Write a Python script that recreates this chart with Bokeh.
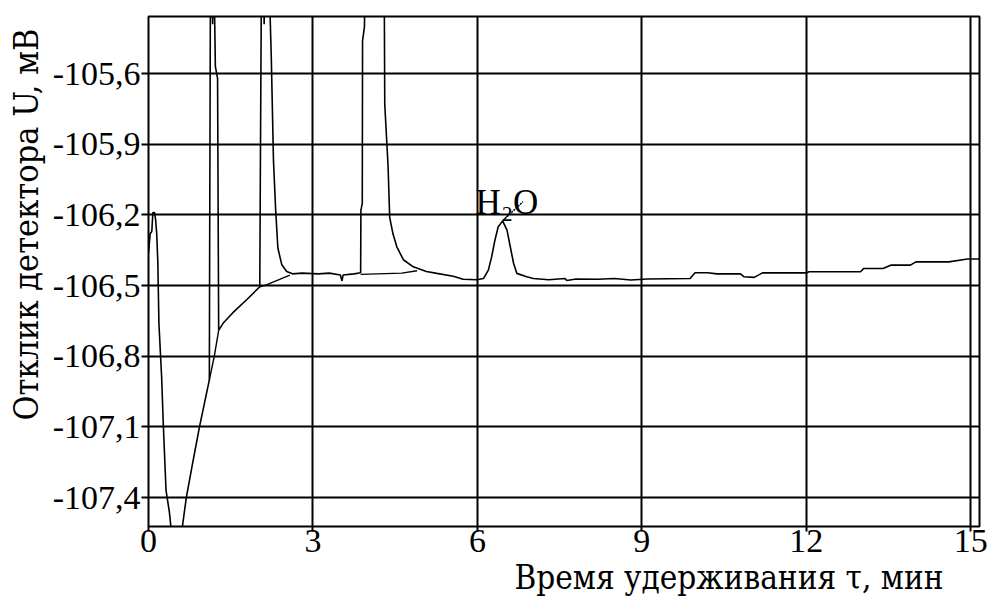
from bokeh.plotting import figure
from bokeh.models import FixedTicker, Label, Range1d, Title
from bokeh.embed import file_html
from bokeh.resources import INLINE

NaN = float("nan")

# ---- data ----
signal_t = [0.00, 0.03, 0.06, 0.08, 0.11, 0.13, 0.15, 0.17, 0.19, 0.24, 0.27, 0.32, 0.38, 0.42, 0.50,
            0.58, 0.62, 0.69, 0.80, 0.93, 1.02, 1.11, 1.115, 1.13, 1.15, 1.17, 1.19, 1.22, 1.26, 1.28,
            1.36, 1.54, 1.79, 2.03, 2.04, 2.06, 2.09, 2.11, 2.13, 2.20, 2.24, 2.28, 2.32, 2.36, 2.43,
            2.52, 2.63, 2.80, 3.10, 3.30, 3.50, 3.53, 3.55, 3.75, 3.87, 3.875, 3.90, 3.905, 3.94, 3.95,
            4.10, 4.30, 4.31, 4.37, 4.40, 4.46, 4.53, 4.65, 4.83, 5.07, 5.26, 5.56, 5.74, 5.99, 6.11,
            6.20, 6.26, 6.32, 6.38, 6.46, 6.54, 6.60, 6.66, 6.72, 6.90, 7.02, 7.30, 7.60, 7.63, 7.80,
            8.20, 8.50, 8.80, 9.10, 9.88, 9.97, 10.20, 10.37, 10.80, 10.86, 11.05, 11.20, 12.00, 12.05,
            12.99, 13.05, 13.40, 13.54, 13.90, 14.00, 14.60, 14.94, 15.16]
signal_u = [-106.36, -106.28, -106.27, -106.19, -106.19, -106.22, -106.28, -106.40, -106.66, -106.89,
            -107.09, -107.37, -107.46, -107.55, -107.70, -107.58, -107.52, -107.40, -107.26, -107.10,
            -107.00, -106.90, -106.40, -105.20, -105.10, -105.39, -105.10, -105.57, -105.62, -106.69,
            -106.66, -106.615, -106.56, -106.505, -106.05, -105.20, -105.10, -105.39, -105.10, -105.20,
            -105.53, -105.97, -106.18, -106.34, -106.41, -106.44, -106.45, -106.447, -106.45, -106.447,
            -106.455, -106.48, -106.455, -106.45, -106.445, -106.18, -106.15, -105.46, -105.40, -105.10,
            -104.90, -105.20, -105.73, -105.99, -106.21, -106.28, -106.335, -106.39, -106.42, -106.44,
            -106.448, -106.46, -106.473, -106.475, -106.47, -106.434, -106.378, -106.307, -106.25,
            -106.225, -106.264, -106.335, -106.405, -106.448, -106.462, -106.47, -106.475, -106.47,
            -106.478, -106.472, -106.473, -106.47, -106.476, -106.472, -106.47, -106.445, -106.445,
            -106.45, -106.45, -106.462, -106.465, -106.446, -106.446, -106.441, -106.441, -106.427,
            -106.427, -106.413, -106.413, -106.399, -106.399, -106.387, -106.387]

# integration baselines drawn under the peaks
baseline_t = [1.11, 1.20, 1.28, NaN, 2.03, 2.15, 2.58, NaN, 3.87, 4.62, 4.90]
baseline_u = [-106.90, -106.80, -106.69, NaN, -106.505, -106.497, -106.455, NaN, -106.452, -106.447, -106.437]

x_ticks = [0, 3, 6, 9, 12, 15]
x_tick_labels = ["0", "3", "6", "9", "12", "15"]
y_ticks = [-107.4, -107.1, -106.8, -106.5, -106.2, -105.9, -105.6]
y_tick_labels = ["-107,4", "-107,1", "-106,8", "-106,5", "-106,2", "-105,9", "-105,6"]

x_title = "Время удерживания τ, мин"
y_title = "Отклик детектора U, мВ"

peak_name = "H₂O"
peak_name_pos = (6.54, -106.149)
leader_t = [6.46, 6.83]
leader_u = [-106.225, -106.144]

# ---- figure ----
FONT = "Liberation Serif"
TITLE_FONT = "DejaVu Serif Condensed"
p = figure(width=990, height=598, output_backend="svg", toolbar_location=None,
           x_range=Range1d(0, 15.16), y_range=Range1d(-107.523, -105.357),
           min_border_left=148, min_border_right=11, min_border_top=16, min_border_bottom=71)
p.background_fill_color = "white"
p.border_fill_color = "white"
p.outline_line_color = "black"
p.outline_line_width = 2

for ax in (p.xaxis[0], p.yaxis[0]):
    ax.axis_line_color = None
    ax.minor_tick_line_color = None
    ax.major_tick_in = 0
    ax.major_tick_line_color = "black"
    ax.major_tick_line_width = 2
    ax.major_label_text_font = FONT
    ax.major_label_text_font_size = "34px"
    ax.major_label_text_color = "black"

p.xaxis.ticker = FixedTicker(ticks=x_ticks)
p.xaxis.major_label_overrides = {t: l for t, l in zip(x_ticks, x_tick_labels)}
p.xaxis.major_tick_out = 5
p.xaxis.major_label_standoff = -2
p.yaxis.ticker = FixedTicker(ticks=y_ticks)
p.yaxis.major_label_overrides = {t: l for t, l in zip(y_ticks, y_tick_labels)}
p.yaxis.major_tick_out = 7
p.yaxis.major_label_standoff = 1

p.xgrid.ticker = FixedTicker(ticks=x_ticks)
p.ygrid.ticker = FixedTicker(ticks=y_ticks)
for g in (p.xgrid[0], p.ygrid[0]):
    g.grid_line_color = "black"
    g.grid_line_width = 2
    g.grid_line_alpha = 1.0

p.line(baseline_t, baseline_u, line_color="black", line_width=1.4)
p.line(signal_t, signal_u, line_color="black", line_width=1.6)
p.line(leader_t, leader_u, line_color="black", line_width=1.5, line_dash="2 1")

p.add_layout(Label(x=peak_name_pos[0], y=peak_name_pos[1], text=peak_name, text_align="center",
                   text_baseline="alphabetic", text_font=FONT, text_font_size="35px",
                   text_color="black"))

# axis titles
xt = Title(text=x_title, align="right", offset=36, standoff=3, text_font=TITLE_FONT,
           text_font_size="33px", text_font_style="normal", text_color="black")
yt = Title(text=y_title, align="right", offset=12, standoff=7, text_font=TITLE_FONT,
           text_font_size="34px", text_font_style="normal", text_color="black")
p.add_layout(xt, "below")
p.add_layout(yt, "left")

open("out.html", "w").write(file_html(p, INLINE))
